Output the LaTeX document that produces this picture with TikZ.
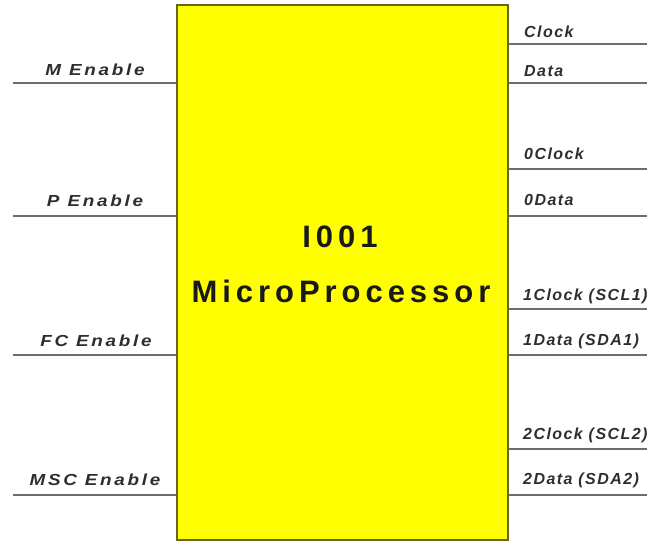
\documentclass[tikz,border=0pt]{standalone}
\usepackage{fontspec}
\setmainfont{Liberation Sans}
\usetikzlibrary{calc}
\definecolor{boxfill}{HTML}{FFFF00}
\definecolor{boxedge}{HTML}{66661E}
\definecolor{wire}{HTML}{6E6E6E}
\definecolor{lbl}{HTML}{2E2E2E}
\tikzset{
  chip/.style={draw=boxedge, line width=2pt, fill=boxfill, rectangle, inner sep=0pt,
    minimum width=331pt, minimum height=535pt},
  wireline/.style={draw=wire, line width=1.6pt},
  lsig/.style={inner sep=0pt, text=lbl, anchor=base, font=\fontsize{16}{18}\selectfont\bfseries\itshape\addfontfeatures{FakeStretch=1.18,LetterSpace=17}},
  rsig/.style={inner sep=0pt, text=lbl, anchor=base west, font=\fontsize{16}{18}\selectfont\bfseries\itshape\addfontfeatures{LetterSpace=9}},
  title/.style={inner sep=0pt, anchor=base, text=black!90, font=\fontsize{31}{36}\selectfont\bfseries\addfontfeatures{LetterSpace=16}}
}
\begin{document}
\begin{tikzpicture}[x=1pt,y=-1pt]
\useasboundingbox (0,0) rectangle (661,546);
\node[chip] (box) at (342.5,272.5) {};
\node[title] (t1) at (340,247) {I001};
\node[title] (t2) at (341,302) {MicroProcessor};
% left wires
\foreach \n/\y in {m/83,p/216,fc/355,msc/495}{
  \coordinate (\n L) at (13,\y);
  \draw[wireline] (\n L) -- (\n L -| box.west);
}
\node[lsig] (lm) at (95,75) {M Enable};
\node[lsig] (lp) at (95,206) {P Enable};
\node[lsig] (lfc) at (96,346) {FC Enable};
\node[lsig] (lmsc) at (95,485) {MSC Enable};
% right wires
\foreach \n/\y in {c/44,d/83,zc/169,zd/216,oc/309,od/355,tc/449,td/495}{
  \coordinate (\n R) at (647,\y);
  \draw[wireline] (\n R -| box.east) -- (\n R);
}
\node[rsig] (rc) at (524,37) {Clock};
\node[rsig] (rd) at (524,76) {Data};
\node[rsig] (rzc) at (524,159) {0Clock};
\node[rsig] (rzd) at (524,205) {0Data};
\node[rsig] (roc) at (523,300) {1Clock (SCL1)};
\node[rsig] (rod) at (523,345) {1Data (SDA1)};
\node[rsig] (rtc) at (523,439) {2Clock (SCL2)};
\node[rsig] (rtd) at (523,484) {2Data (SDA2)};
\end{tikzpicture}
\end{document}
